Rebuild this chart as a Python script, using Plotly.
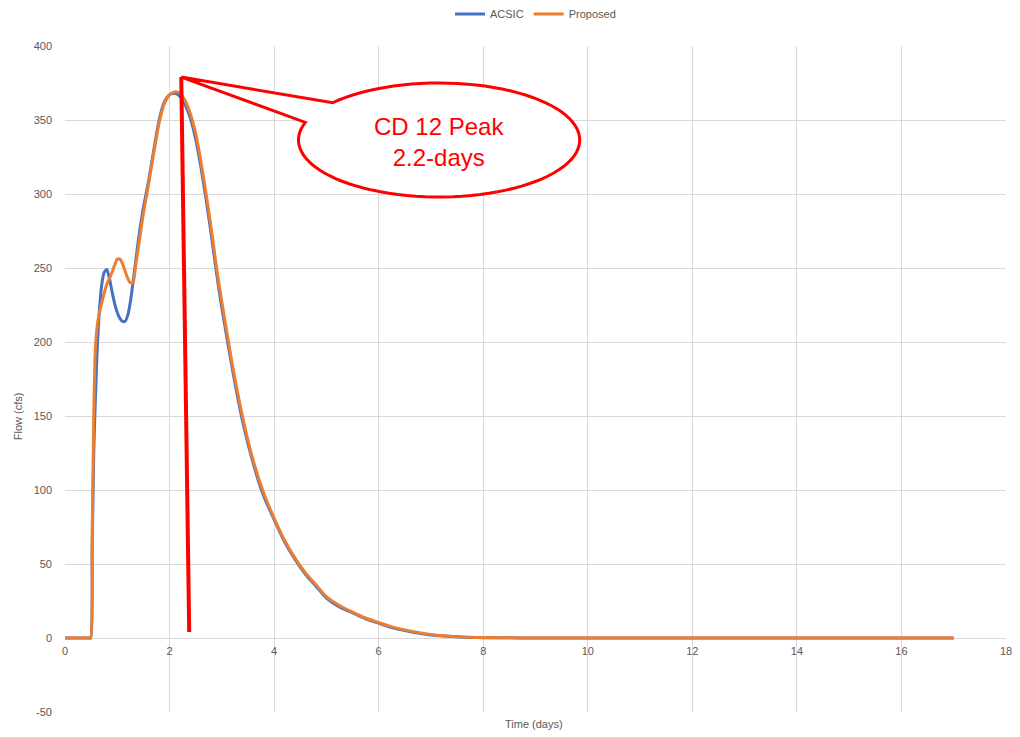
import numpy as np
import plotly.graph_objects as go

# ---- data ----
time_days = [0, 0.45, 0.49, 0.52, 0.55, 0.58, 0.62, 0.66, 0.70, 0.75, 0.80, 0.85, 0.90, 0.95,
             1.00, 1.05, 1.10, 1.15, 1.20, 1.25, 1.30, 1.35, 1.40, 1.45, 1.50, 1.60,
             1.70, 1.80, 1.90, 2.00, 2.10, 2.20, 2.30, 2.40, 2.50, 2.60, 2.70, 2.80,
             2.90, 3.00, 3.20, 3.40, 3.60, 3.80, 4.00, 4.20, 4.40, 4.60, 4.80, 5.00,
             5.25, 5.50, 5.75, 6.00, 6.25, 6.50, 6.75, 7.00, 7.25, 7.50, 7.75, 8.00,
             8.50, 9.00, 10.0, 12.0, 14.0, 16.0, 17.0]

acsic_flow = [0, 0, 0, 60, 125, 160, 198, 222, 238, 247, 249, 243, 234, 226,
              220, 216, 214, 214, 218, 227, 240, 254, 268, 280, 291, 309,
              330, 350, 362, 367, 368, 366, 360, 351, 337, 318, 296, 272,
              246, 223, 182, 146, 118, 96, 80, 65, 53, 43, 35, 27,
              21, 17, 13, 10, 7, 5, 3.3, 2, 1.3, 0.8, 0.4, 0.2,
              0.1, 0, 0, 0, 0, 0, 0]

proposed_flow = [0, 0, 0, 70, 150, 195, 212, 220, 226, 233, 239, 243, 247, 252,
                 256, 256, 253, 248, 243, 240, 240, 251, 263, 275, 287, 307,
                 328, 348, 361, 367, 369, 368, 363, 354, 341, 322, 300, 276,
                 250, 227, 185, 149, 120, 98, 81, 66, 54, 44, 36, 28,
                 22, 17.5, 13.5, 10.5, 7.5, 5.5, 3.8, 2.4, 1.5, 0.9, 0.5, 0.3,
                 0.1, 0, 0, 0, 0, 0, 0]

series_names = ["ACSIC", "Proposed"]
series_colors = ["#4472C4", "#ED7D31"]

y_ticks = [-50, 0, 50, 100, 150, 200, 250, 300, 350, 400]
y_tick_text = ["-50", "0", "50", "100", "150", "200", "250", "300", "350", "400"]
x_ticks = [0, 2, 4, 6, 8, 10, 12, 14, 16, 18]

callout_text = "CD 12 Peak<br>2.2-days"
peak_tip = (2.224, 379)
peak_base = (2.376, 4)

GRID = "#D9D9D9"
TXT = "#595959"
RED = "#FF0000"

fig = go.Figure()
for name, ys, col in zip(series_names, [acsic_flow, proposed_flow], series_colors):
    fig.add_trace(go.Scatter(x=time_days, y=ys, name=name, mode="lines",
                             line=dict(color=col, width=3, shape="spline", smoothing=0.6)))

# callout ellipse with pointer (data coordinates)
cx, rx, cy, ry = 7.156, 2.69, 336.5, 38.5
a1, a2 = np.deg2rad(139.2), np.deg2rad(162 - 360)
ang = np.linspace(a1, a2, 90)
ex = cx + rx * np.cos(ang)
ey = cy + ry * np.sin(ang)
path = f"M {peak_tip[0]},{peak_tip[1]} " + " ".join(
    f"L {x:.4f},{y:.3f}" for x, y in zip(ex, ey)) + " Z"

fig.add_shape(type="path", path=path, xref="x", yref="y",
              fillcolor="white", line=dict(color=RED, width=3), layer="above")
fig.add_shape(type="line", xref="x", yref="y",
              x0=peak_tip[0], y0=peak_tip[1], x1=peak_base[0], y1=peak_base[1],
              line=dict(color=RED, width=4), layer="above")
fig.add_annotation(x=cx, y=335, xref="x", yref="y", text=callout_text,
                   showarrow=False, font=dict(family="Liberation Sans", size=24, color=RED),
                   align="center")

# axis titles
fig.add_annotation(x=0.498, y=-0.018, xref="paper", yref="paper", text="Time (days)",
                   showarrow=False, font=dict(family="Liberation Sans", size=11, color=TXT),
                   yanchor="middle")
fig.add_annotation(x=-0.05, y=0.444, xref="paper", yref="paper", text="Flow (cfs)",
                   showarrow=False, textangle=-90, xanchor="center",
                   font=dict(family="Liberation Sans", size=11, color=TXT))

fig.update_layout(
    width=1020, height=737,
    margin=dict(l=65, r=8, t=46, b=25),
    plot_bgcolor="white", paper_bgcolor="white",
    font=dict(family="Liberation Sans", size=11, color=TXT),
    showlegend=True,
    legend=dict(orientation="h", x=0.5, xanchor="center", yref="container",
                y=1 - 14 / 737, yanchor="middle", font=dict(size=11, color=TXT),
                bgcolor="rgba(0,0,0,0)"),
    xaxis=dict(range=[0, 18], tickvals=x_ticks, showgrid=True, gridcolor=GRID,
               zeroline=False, showline=False, anchor="free", position=50 / 450,
               ticklabelstandoff=5, tickfont=dict(size=11, color=TXT)),
    yaxis=dict(range=[-50, 400], tickvals=y_ticks, ticktext=y_tick_text,
               showgrid=True, gridcolor=GRID,
               zeroline=False, showline=False, ticklabelstandoff=12,
               tickfont=dict(size=11, color=TXT)),
)

fig.write_html("out.html", config={"displayModeBar": False},
               post_script="document.body.style.margin='0';document.body.style.overflow='hidden';")
